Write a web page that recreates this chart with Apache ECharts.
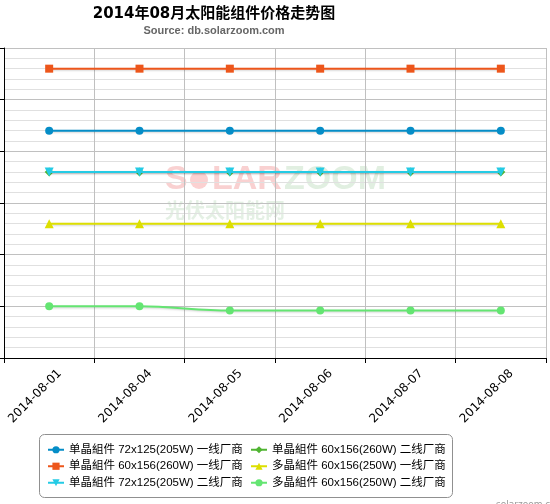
<!DOCTYPE html>
<html><head><meta charset="utf-8">
<script src="https://cdn.jsdelivr.net/npm/echarts@6/dist/echarts.min.js"></script>
<style>html,body{margin:0;padding:0;background:#fff}#c{width:550px;height:504px}</style>
</head><body><div id="c"></div>
<script>
var categories = ['2014-08-01','2014-08-04','2014-08-05','2014-08-06','2014-08-07','2014-08-08'];
var seriesNames = [
  '单晶組件 72x125(205W) 一线厂商',
  '单晶組件 60x156(260W) 一线厂商',
  '单晶組件 72x125(205W) 二线厂商',
  '单晶組件 60x156(260W) 二线厂商',
  '多晶組件 60x156(250W) 一线厂商',
  '多晶組件 60x156(250W) 二线厂商'
];
var mono72Tier1 = [4.10, 4.10, 4.10, 4.10, 4.10, 4.10];
var mono60Tier1 = [4.40, 4.40, 4.40, 4.40, 4.40, 4.40];
var mono72Tier2 = [3.90, 3.90, 3.90, 3.90, 3.90, 3.90];
var mono60Tier2 = [3.90, 3.90, 3.90, 3.90, 3.90, 3.90];
var poly60Tier1 = [3.65, 3.65, 3.65, 3.65, 3.65, 3.65];
var poly60Tier2 = [3.25, 3.25, 3.23, 3.23, 3.23, 3.23];

var colors = ['#058DC7','#ED561B','#24CBE5','#50B432','#DDDF00','#64E572'];
var symbols = ['circle','rect','triangle','diamond','triangle','circle'];
var rotates = [0,0,180,0,0,0];
var sizes = [8,8,9,9,9,8];
var values = [mono72Tier1, mono60Tier1, mono72Tier2, mono60Tier2, poly60Tier1, poly60Tier2];
var zs = [3,3,3,2,3,3];
var smooths = [false,false,false,false,false,true];

var FONT = '"Liberation Sans","Noto Sans CJK SC",sans-serif';

var series = values.map(function(v,i){
  return {
    name: seriesNames[i], type: 'line', data: v, z: zs[i],
    symbol: symbols[i], symbolSize: sizes[i], symbolRotate: rotates[i],
    smooth: smooths[i] ? 0.35 : false,
    itemStyle: {color: colors[i]},
    lineStyle: {color: colors[i], width: 2, shadowColor: 'rgba(0,0,0,0.18)', shadowBlur: 2, shadowOffsetX: 1, shadowOffsetY: 1},
    emphasis: {disabled: true},
    animation: false
  };
});

var chart = echarts.init(document.getElementById('c'), null, {renderer: 'canvas'});
chart.setOption({
  animation: false,
  color: colors,
  grid: {left: 4, right: 4, top: 48, bottom: 146, containLabel: false},
  xAxis: {
    type: 'category', data: categories, boundaryGap: true,
    axisLine: {lineStyle: {color: '#000', width: 1}},
    axisTick: {show: true, length: 5, lineStyle: {color: '#000'}},
    axisLabel: {rotate: 45, color: '#000', fontSize: 12, fontFamily: '"DejaVu Sans",sans-serif', margin: 3, interval: 0, verticalAlign: 'top', padding: [9,0,0,0]},
    splitLine: {show: true, lineStyle: {color: '#c0c0c0', width: 1}}
  },
  yAxis: {
    type: 'value', min: 3.0, max: 4.5, interval: 0.25,
    axisLine: {show: true, lineStyle: {color: '#000', width: 1}},
    axisTick: {show: true, length: 4, lineStyle: {color: '#000'}},
    axisLabel: {show: false},
    splitLine: {show: true, lineStyle: {color: '#c0c0c0', width: 1}},
    minorTick: {show: false, splitNumber: 5},
    minorSplitLine: {show: true, lineStyle: {color: '#e0e0e0', width: 1}}
  },
  legend: [
    {data: seriesNames.slice(0,3), orient: 'vertical', left: 47, top: 444, itemGap: 5, itemWidth: 16, itemHeight: 9,
     textStyle: {fontSize: 11.5, color: '#000', fontFamily: FONT}, padding: 0, selectedMode: false},
    {data: seriesNames.slice(3,6), orient: 'vertical', left: 250, top: 444, itemGap: 5, itemWidth: 16, itemHeight: 9,
     textStyle: {fontSize: 11.5, color: '#000', fontFamily: FONT}, padding: 0, selectedMode: false}
  ],
  graphic: [
    {type: 'text', x: 214, y: 7, style: {text: '2014年08月太阳能组件价格走势图', font: 'bold 15px "DejaVu Sans","Noto Sans CJK SC",sans-serif', fill: '#000', textAlign: 'center', textVerticalAlign: 'top'}},
    {type: 'text', x: 214, y: 25, style: {text: 'Source: db.solarzoom.com', font: 'bold 11px "Liberation Sans",sans-serif', fill: '#666', textAlign: 'center', textVerticalAlign: 'top'}},
    {type: 'rect', shape: {x: 39.5, y: 434.5, width: 413, height: 63, r: 5}, style: {fill: 'none', stroke: '#909090', lineWidth: 1}, z: 1},
    {type: 'text', x: 496, y: 500, style: {text: 'solarzoom.com', font: '9px "DejaVu Sans",sans-serif', fill: '#999', textVerticalAlign: 'top'}},
    {type: 'text', x: 165, y: 180, z: 0, silent: true, style: {text: 'S', font: 'bold 34px "Liberation Sans",sans-serif', fill: 'rgba(235,90,90,0.28)', textVerticalAlign: 'middle'}},
    {type: 'circle', shape: {cx: 199, cy: 180, r: 9}, z: 0, silent: true, style: {fill: 'rgba(240,90,90,0.28)'}},
    {type: 'text', x: 212, y: 180, z: 0, silent: true, style: {text: 'LAR', font: 'bold 34px "Liberation Sans",sans-serif', fill: 'rgba(235,90,90,0.28)', textVerticalAlign: 'middle'}},
    {type: 'text', x: 284, y: 180, z: 0, silent: true, style: {text: 'ZOOM', font: 'bold 34px "Liberation Sans",sans-serif', fill: 'rgba(120,180,120,0.22)', textVerticalAlign: 'middle'}},
    {type: 'text', x: 165, y: 210, z: 0, silent: true, style: {text: '光伏太阳能网', font: 'bold 20px "Noto Sans CJK SC",sans-serif', fill: 'rgba(120,180,120,0.2)', textVerticalAlign: 'middle'}}
  ],
  series: series
});
</script></body></html>
